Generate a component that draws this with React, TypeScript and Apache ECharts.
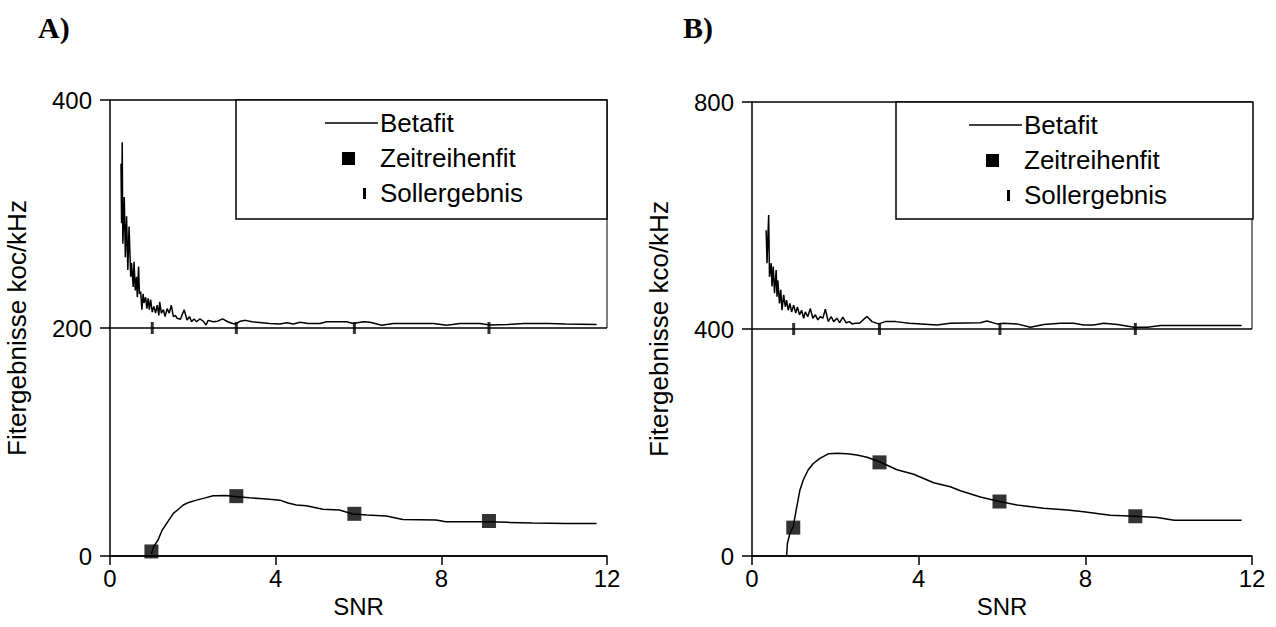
import React, { useEffect, useRef } from "react";
import * as echarts from "echarts";

const FONT = "'Liberation Sans', Arial, Helvetica, sans-serif";
const SERIF = "'Liberation Serif', 'Times New Roman', serif";

// Axis ticks
const xTicks = { min: 0, max: 12, interval: 4 };
const yTicksA = { min: 0, max: 400, interval: 200 };
const yTicksB = { min: 0, max: 800, interval: 400 };

const panelTitles = ["A)", "B)"];
const yNames = ["Fitergebnisse koc/kHz", "Fitergebnisse kco/kHz"];
const xName = "SNR";
const legendNames = ["Betafit", "Zeitreihenfit", "Sollergebnis"];

// Panel A — Betafit, upper (noisy) branch
const betaA_upper: [number, number][] = [
  [0.265, 344], [0.28, 292], [0.295, 363], [0.31, 274], [0.345, 315], [0.37, 262], [0.4, 298], [0.43, 251],
  [0.46, 289], [0.5, 245], [0.52, 257], [0.56, 236], [0.58, 258], [0.61, 233], [0.64, 245], [0.66, 227],
  [0.69, 254], [0.71, 230], [0.74, 232], [0.77, 216], [0.8, 230], [0.82, 222], [0.86, 227], [0.89, 217],
  [0.92, 226], [0.95, 216], [0.98, 225], [1.02, 214], [1.06, 219], [1.1, 213], [1.14, 220], [1.18, 211],
  [1.2, 223], [1.24, 213], [1.29, 216], [1.33, 210], [1.38, 217], [1.43, 213], [1.48, 220], [1.53, 210],
  [1.58, 211], [1.62, 208.5], [1.7, 207.6], [1.79, 216], [1.86, 207], [1.92, 210], [1.97, 205.5], [2.03, 208],
  [2.09, 205.5], [2.17, 208], [2.25, 206], [2.32, 202.6], [2.37, 206.7], [2.49, 205.5], [2.6, 206], [2.72, 208],
  [2.84, 205.5], [2.96, 204], [3.03, 203.5], [3.15, 206], [3.27, 206.7], [3.43, 205.5], [3.86, 204], [4.1, 203.5],
  [4.27, 204.7], [4.43, 203.5], [4.59, 205], [4.79, 204], [5.07, 204], [5.23, 205.5], [5.71, 205.5], [5.87, 204],
  [6.12, 205.5], [6.28, 205], [6.56, 202.5], [6.84, 204], [7.81, 204], [8.13, 202.5], [8.45, 204], [8.93, 204],
  [9.17, 202.6], [9.6, 203], [10.0, 204], [10.6, 204], [11.0, 203.5], [11.75, 203],
];
// Panel A — Betafit, lower branch
const betaA_lower: [number, number][] = [
  [1.0, 2], [1.05, 8], [1.16, 14], [1.25, 22], [1.37, 28.7], [1.45, 33], [1.53, 37.4], [1.65, 41],
  [1.77, 44.7], [1.9, 47], [2.09, 49], [2.3, 51], [2.49, 52.9], [2.8, 53], [3.05, 52], [3.37, 51],
  [3.6, 50.5], [3.86, 49.7], [4.1, 49], [4.3, 46.5], [4.5, 44.7], [4.74, 44], [5.14, 41], [5.54, 40.3],
  [5.86, 36.8], [6.2, 36], [6.67, 35], [7.07, 32], [7.87, 31.6], [8.11, 30], [9.08, 30], [9.6, 29.5],
  [10.2, 29], [11.0, 28.5], [11.75, 28.5],
];
const zeitA_x = [1.0, 3.05, 5.9, 9.15];
const zeitA_y = [4, 52.5, 37, 30.7];
const sollA_x = [1.02, 3.05, 5.9, 9.15];
const sollA_y = [200, 200, 200, 200];

// Panel B — Betafit, upper (noisy) branch
const betaB_upper: [number, number][] = [
  [0.34, 574], [0.36, 516], [0.4, 601], [0.42, 492], [0.46, 516], [0.48, 475], [0.51, 510], [0.54, 463],
  [0.58, 504], [0.6, 457], [0.62, 486], [0.66, 445], [0.69, 469], [0.72, 433], [0.76, 460], [0.8, 439],
  [0.83, 451], [0.87, 433], [0.91, 445], [0.95, 430], [1.0, 442], [1.05, 428], [1.09, 439], [1.14, 425],
  [1.19, 433], [1.24, 419], [1.28, 430], [1.34, 422], [1.4, 436], [1.46, 419], [1.52, 425], [1.58, 416],
  [1.64, 422], [1.7, 419], [1.76, 435], [1.83, 413], [1.9, 422], [1.96, 413], [2.04, 419], [2.1, 411],
  [2.18, 421], [2.26, 411], [2.34, 413], [2.4, 409], [2.48, 410], [2.58, 410], [2.68, 417], [2.76, 422],
  [2.88, 413], [3.04, 409], [3.2, 413], [3.45, 413], [3.77, 410], [4.44, 407], [4.76, 410], [5.48, 411],
  [5.64, 414], [5.88, 409], [6.04, 410], [6.36, 409], [6.68, 403], [7.0, 408], [7.4, 410], [7.72, 410],
  [7.96, 407], [8.2, 407], [8.44, 410], [8.77, 408], [9.17, 403], [9.49, 403], [9.81, 406], [10.77, 406],
  [11.75, 406],
];
// Panel B — Betafit, lower branch
const betaB_lower: [number, number][] = [
  [0.83, 0], [0.85, 22], [0.91, 40], [0.99, 52], [1.06, 81], [1.15, 116], [1.23, 134], [1.35, 152],
  [1.47, 163], [1.63, 172], [1.83, 180], [2.04, 181], [2.28, 180], [2.52, 178], [2.76, 174], [3.06, 166],
  [3.48, 152], [3.88, 144], [4.36, 129], [4.76, 122], [5.0, 115], [5.48, 104], [5.94, 96], [6.36, 90],
  [7.0, 84], [7.57, 81], [7.96, 78], [8.6, 72], [9.2, 70], [9.73, 68], [10.13, 63], [10.77, 63], [11.75, 63],
];
const zeitB_x = [0.99, 3.06, 5.94, 9.2];
const zeitB_y = [50, 165, 96, 70];
const sollB_x = [1.0, 3.06, 5.95, 9.2];
const sollB_y = [400, 400, 400, 400];

const zip = (xs: number[], ys: number[]) => xs.map((x, i) => [x, ys[i]]);

function makeX(gridIndex: number) {
  return {
    type: "value",
    gridIndex,
    ...xTicks,
    axisLine: { show: true, onZero: false, lineStyle: { color: "#000", width: 1.5 } },
    axisTick: { show: true, inside: false, length: 9, lineStyle: { color: "#000", width: 1.5 } },
    axisLabel: { color: "#000", fontSize: 24, fontFamily: FONT, margin: 10 },
    splitLine: { show: false },
    name: xName,
    nameLocation: "middle",
    nameGap: 31,
    nameTextStyle: { color: "#000", fontSize: 24, fontFamily: FONT },
  };
}
function makeY(gridIndex: number, ticks: any, name: string) {
  return {
    type: "value",
    gridIndex,
    ...ticks,
    axisLine: { show: true, onZero: false, lineStyle: { color: "#000", width: 1.5 } },
    axisTick: { show: true, inside: false, length: 10, lineStyle: { color: "#000", width: 1.5 } },
    axisLabel: { color: "#000", fontSize: 24, fontFamily: FONT, margin: 18 },
    splitLine: { show: true, lineStyle: { color: "#000", width: 1.5 } },
    name,
    nameLocation: "middle",
    nameGap: 80,
    nameTextStyle: { color: "#000", fontSize: 26, fontFamily: FONT },
  };
}

const lineStyle = { color: "#000", width: 1.5 };
function lineSeries(i: number, data: any, name = "Betafit", width = 1.5) {
  return {
    type: "line",
    name,
    xAxisIndex: i,
    yAxisIndex: i,
    data,
    showSymbol: false,
    symbol: "none",
    lineStyle: { ...lineStyle, width },
    z: 3,
    silent: true,
  };
}
function zeitSeries(i: number, data: any) {
  return {
    type: "scatter",
    name: "Zeitreihenfit",
    xAxisIndex: i,
    yAxisIndex: i,
    data,
    symbol: "rect",
    symbolSize: 14,
    itemStyle: { color: "#000" },
    z: 4,
  };
}
function sollSeries(i: number, data: any) {
  return {
    type: "scatter",
    name: "Sollergebnis",
    xAxisIndex: i,
    yAxisIndex: i,
    data,
    symbol: "rect",
    symbolSize: [3, 12],
    itemStyle: { color: "#000" },
    z: 4,
  };
}

function legendBox(left: number, top: number, w: number, h: number, textX: number) {
  const textStyle = { fill: "#000", fontSize: 26, fontFamily: FONT, verticalAlign: "middle", align: "left" };
  return [
    { type: "rect", z: 100, shape: { x: left, y: top, width: w, height: h }, style: { fill: "#fff", stroke: "#000", lineWidth: 1.5 } },
    { type: "line", z: 101, shape: { x1: textX - 55, y1: top + 23, x2: textX - 2, y2: top + 23 }, style: { stroke: "#000", lineWidth: 1.5 } },
    { type: "text", z: 101, x: textX, y: top + 23, style: { ...textStyle, text: legendNames[0] } },
    { type: "rect", z: 101, shape: { x: textX - 38, y: top + 52, width: 13, height: 13 }, style: { fill: "#000" } },
    { type: "text", z: 101, x: textX, y: top + 58, style: { ...textStyle, text: legendNames[1] } },
    { type: "rect", z: 101, shape: { x: textX - 17, y: top + 88, width: 3, height: 11 }, style: { fill: "#000" } },
    { type: "text", z: 101, x: textX, y: top + 93, style: { ...textStyle, text: legendNames[2] } },
  ];
}

export default function App() {
  const ref = useRef<HTMLDivElement>(null);
  useEffect(() => {
    const chart = echarts.init(ref.current!, null, { renderer: "svg" });
    const option: any = {
      animation: false,
      backgroundColor: "#fff",
      grid: [
        { left: 110, top: 100, width: 497, height: 456 },
        { left: 752, top: 102, width: 500, height: 454 },
      ],
      xAxis: [makeX(0), makeX(1)],
      yAxis: [makeY(0, yTicksA, yNames[0]), makeY(1, yTicksB, yNames[1])],
      series: [
        lineSeries(0, betaA_upper),
        lineSeries(0, betaA_lower),
        zeitSeries(0, zip(zeitA_x, zeitA_y)),
        sollSeries(0, zip(sollA_x, sollA_y)),
        lineSeries(0, [[12, 200], [12, 400]], "Rahmen", 1),
        lineSeries(1, betaB_upper),
        lineSeries(1, betaB_lower),
        zeitSeries(1, zip(zeitB_x, zeitB_y)),
        sollSeries(1, zip(sollB_x, sollB_y)),
        lineSeries(1, [[12, 400], [12, 800]], "Rahmen", 1),
      ],
      graphic: [
        { type: "text", left: 38, top: 12, z: 100, style: { text: panelTitles[0], fill: "#000", fontSize: 30, fontWeight: "bold", fontFamily: SERIF } },
        { type: "text", left: 683, top: 12, z: 100, style: { text: panelTitles[1], fill: "#000", fontSize: 30, fontWeight: "bold", fontFamily: SERIF } },
        ...legendBox(236, 100, 371, 119, 380),
        ...legendBox(896, 102, 357, 117, 1024),
      ],
    };
    chart.setOption(option);
    return () => chart.dispose();
  }, []);
  return (
    <div
      ref={ref}
      style={{ position: "fixed", left: 0, top: 0, width: 1276, height: 627, background: "#fff" }}
    />
  );
}
